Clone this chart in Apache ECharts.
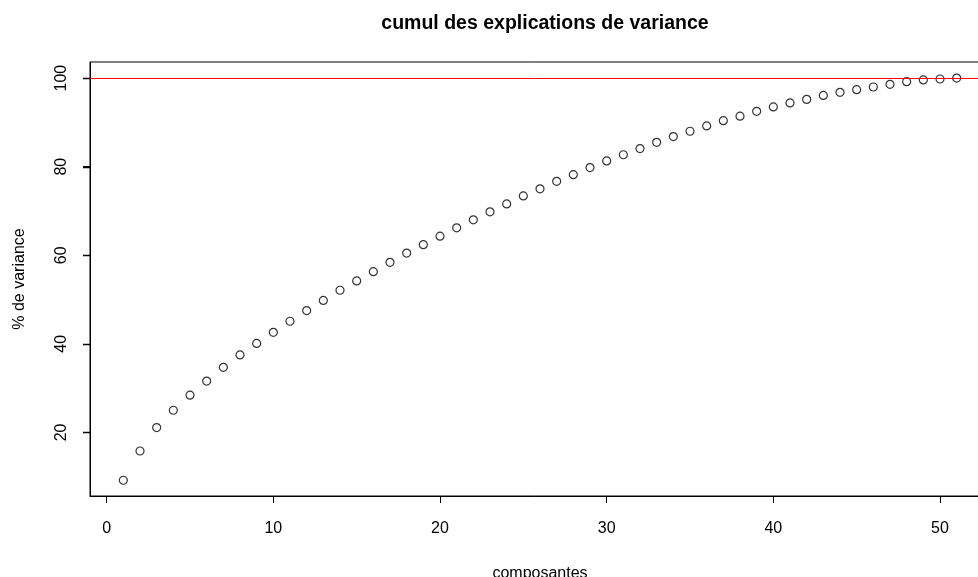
<!DOCTYPE html>
<html>
<head>
<meta charset="utf-8">
<script src="https://cdn.jsdelivr.net/npm/echarts@6/dist/echarts.min.js"></script>
<style>
  html, body { margin: 0; padding: 0; background: #fff; }
  #chart { width: 978px; height: 577px; }
</style>
</head>
<body>
<div id="chart"></div>
<script>
// Component index (1..51)
const composantes = [
  1, 2, 3, 4, 5, 6, 7, 8, 9, 10,
  11, 12, 13, 14, 15, 16, 17, 18, 19, 20,
  21, 22, 23, 24, 25, 26, 27, 28, 29, 30,
  31, 32, 33, 34, 35, 36, 37, 38, 39, 40,
  41, 42, 43, 44, 45, 46, 47, 48, 49, 50, 51
];

// Cumulative explained variance (%)
const varianceCumulee = [
  9.2, 15.8, 21.1, 25.0, 28.4, 31.6, 34.7, 37.5, 40.1, 42.6,
  45.1, 47.5, 49.8, 52.1, 54.2, 56.3, 58.4, 60.5, 62.4, 64.3,
  66.2, 68.0, 69.8, 71.6, 73.4, 75.0, 76.7, 78.2, 79.8, 81.3,
  82.7, 84.1, 85.5, 86.8, 88.0, 89.2, 90.4, 91.4, 92.5, 93.5,
  94.4, 95.2, 96.1, 96.8, 97.4, 98.0, 98.6, 99.2, 99.6, 99.8, 100.0
];

// Tick positions
const xTicks = [0, 10, 20, 30, 40, 50];
const yTicks = [20, 40, 60, 80, 100];

// Axis ranges (data range padded by 4% on each side)
const X_MIN = -1, X_MAX = 53;
const Y_MIN = 5.64, Y_MAX = 103.64;

// Reference level
const seuil = 100;

const FONT = '"Liberation Sans", Arial, Helvetica, sans-serif';
const TICK_LEN = 7;

const points = composantes.map((c, i) => [c, varianceCumulee[i]]);

const chart = echarts.init(document.getElementById('chart'), null, { renderer: 'canvas' });

chart.setOption({
  animation: false,
  backgroundColor: '#ffffff',
  title: {
    text: 'cumul des explications de variance',
    left: 540,
    top: 9,
    textAlign: 'center',
    textStyle: {
      fontFamily: FONT,
      fontSize: 19.5,
      fontWeight: 'bold',
      color: '#000'
    }
  },
  grid: {
    left: 90,
    top: 62,
    width: 900,
    height: 434,
    outerBoundsMode: 'none',
    containLabel: false,
    show: true,
    borderColor: '#000',
    borderWidth: 1,
    backgroundColor: 'transparent'
  },
  xAxis: {
    type: 'value',
    min: X_MIN,
    max: X_MAX,
    name: 'composantes',
    nameLocation: 'middle',
    nameGap: 70,
    nameTextStyle: { fontFamily: FONT, fontSize: 16, color: '#000' },
    axisLine: { show: true, onZero: false, lineStyle: { color: '#000', width: 1 } },
    splitLine: { show: false },
    axisTick: {
      show: true,
      length: TICK_LEN,
      customValues: xTicks,
      lineStyle: { color: '#000', width: 1 }
    },
    axisLabel: {
      customValues: xTicks,
      margin: 25,
      fontFamily: FONT,
      fontSize: 16,
      color: '#000'
    }
  },
  yAxis: {
    type: 'value',
    position: 'left',
    min: Y_MIN,
    max: Y_MAX,
    name: '% de variance',
    nameLocation: 'middle',
    nameGap: 62,
    nameTextStyle: { fontFamily: FONT, fontSize: 16, color: '#000' },
    axisLine: { show: true, onZero: false, lineStyle: { color: '#000', width: 1 } },
    splitLine: { show: false },
    axisTick: {
      show: true,
      length: TICK_LEN,
      customValues: yTicks,
      lineStyle: { color: '#000', width: 1 }
    },
    axisLabel: {
      customValues: yTicks,
      rotate: 90,
      margin: 20,
      fontFamily: FONT,
      fontSize: 16,
      color: '#000'
    }
  },
  series: [{
    type: 'scatter',
    data: points,
    symbol: 'circle',
    symbolSize: 8,
    itemStyle: {
      color: 'rgba(0,0,0,0)',
      borderColor: '#000',
      borderWidth: 1.2
    },
    markLine: {
      silent: true,
      symbol: ['none', 'none'],
      label: { show: false },
      lineStyle: { color: '#ff0000', width: 1, type: 'solid' },
      data: [{ yAxis: seuil }]
    }
  }, {
    // outward tick marks on the left value axis, placed through the axis scale
    type: 'custom',
    coordinateSystem: 'cartesian2d',
    clip: false,
    silent: true,
    z: 10,
    data: yTicks.map(v => [X_MIN, v]),
    renderItem: (params, api) => {
      const p = api.coord([api.value(0), api.value(1)]);
      const y = Math.round(p[1]) + 0.5;
      return {
        type: 'line',
        shape: { x1: p[0] - TICK_LEN, y1: y, x2: p[0], y2: y },
        style: { stroke: '#000', lineWidth: 1.5 }
      };
    }
  }]
});
</script>
</body>
</html>
